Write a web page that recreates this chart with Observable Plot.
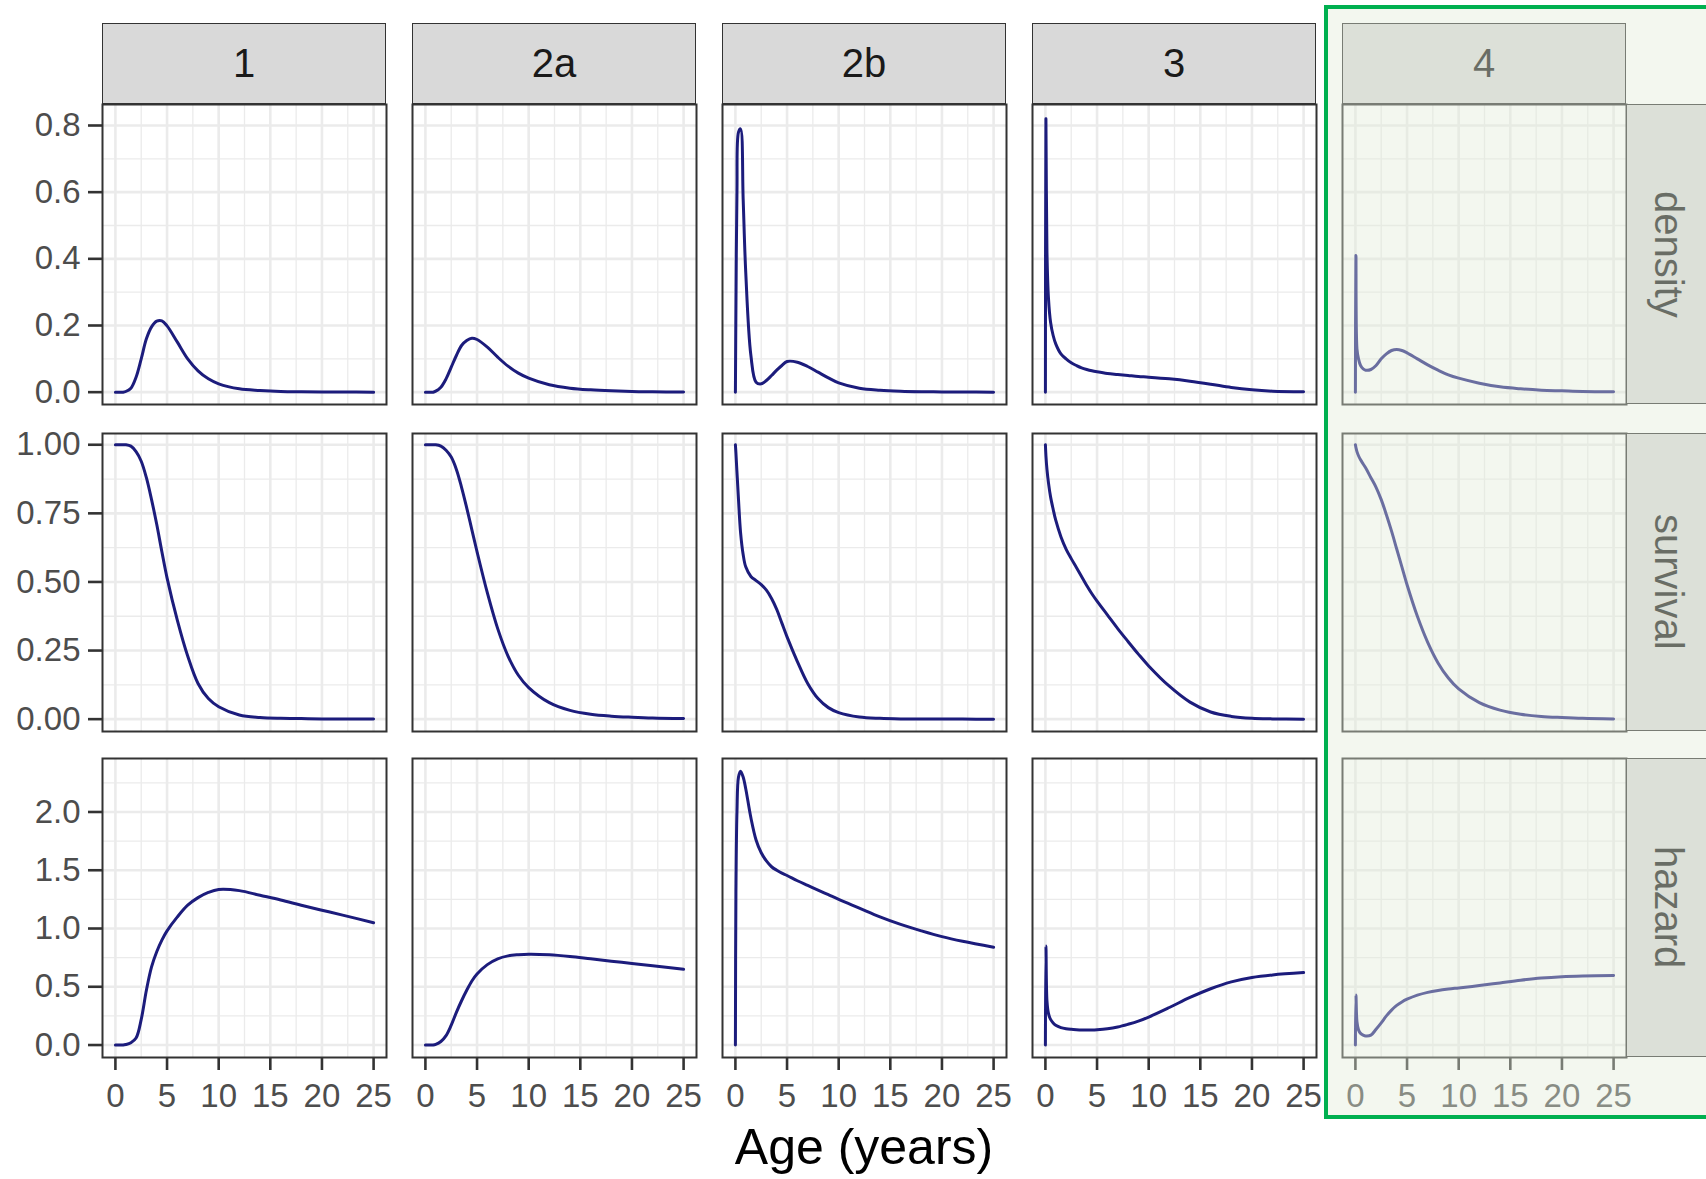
<!DOCTYPE html>
<html>
<head>
<meta charset="utf-8">
<script src="https://cdn.jsdelivr.net/npm/d3@7"></script>
<script src="https://cdn.jsdelivr.net/npm/@observablehq/plot@0.6"></script>
<style>
  body { margin: 0; background: #fff; font-family: "Liberation Sans", Arial, sans-serif; }
  #chart { position: relative; width: 1706px; height: 1179px; overflow: hidden; background: #fff; }
  .strip { position: absolute; box-sizing: border-box; background: #d9d9d9; border: 1.6px solid #333;
           color: #1a1a1a; font-size: 40px; display: flex; align-items: center; justify-content: center; }
  .strip.top { border-bottom: 2.6px solid #333; }
  .vtext { writing-mode: vertical-rl; }
  .panel { position: absolute; }
  .panel svg { overflow: visible; }
  .panel svg g[aria-label$="tick"] { stroke: #333; stroke-width: 2.6px; }
  .panel svg g[aria-label$="tick label"] { fill: #4d4d4d; }
  #xtitle { position: absolute; left: 102px; width: 1524px; top: 1122px; line-height: 50px;
            text-align: center; font-size: 50px; color: #000; }
  #hl { position: absolute; left: 1324px; top: 5px; width: 420px; height: 1114px; box-sizing: border-box;
        border: 4px solid #00b050; background: rgba(225, 235, 215, 0.4); pointer-events: none; z-index: 10; }
</style>
</head>
<body>
<div id="chart"></div>
<script>
// ---------- data ----------
const groups = ["1", "2a", "2b", "3", "4"];
const measures = ["density", "survival", "hazard"];
const ages = [0, 0.05, 0.15, 0.3, 0.5, 0.75, 1, 1.5, 2, 2.5, 3, 3.5, 4, 4.5, 5, 6, 7, 8, 9, 10, 12, 14, 16, 18, 20, 22, 25];

const density_1  = [0,0,0,0,0,0,0.002,0.012,0.045,0.1,0.16,0.196,0.213,0.214,0.199,0.15,0.1,0.064,0.04,0.025,0.01,0.005,0.002,0.001,0.0005,0.0002,0.0001];
const density_2a = [0,0,0,0,0,0,0.003,0.015,0.04,0.075,0.11,0.14,0.155,0.162,0.158,0.135,0.105,0.078,0.057,0.042,0.022,0.012,0.007,0.004,0.002,0.001,0.0005];
const density_2b = [0,0.25,0.6,0.78,0.79,0.58,0.36,0.11,0.03,0.025,0.035,0.05,0.066,0.08,0.092,0.09,0.077,0.06,0.043,0.028,0.012,0.006,0.003,0.0015,0.0008,0.0004,0.0001];
const density_3  = [0,0.82,0.42,0.28,0.21,0.17,0.145,0.115,0.1,0.088,0.08,0.073,0.068,0.064,0.061,0.056,0.053,0.05,0.047,0.045,0.04,0.033,0.024,0.014,0.007,0.003,0.001];
const density_4  = [0,0.41,0.13,0.1,0.08,0.07,0.066,0.068,0.08,0.1,0.115,0.125,0.128,0.125,0.118,0.1,0.082,0.066,0.052,0.042,0.027,0.016,0.01,0.006,0.004,0.002,0.001];

const survival_1  = [1,1,1,1,1,1,1,0.995,0.975,0.94,0.88,0.8,0.71,0.61,0.515,0.36,0.23,0.13,0.075,0.045,0.015,0.006,0.003,0.002,0.001,0.0005,0.0002];
const survival_2a = [1,1,1,1,1,1,1,0.995,0.98,0.955,0.91,0.845,0.77,0.69,0.61,0.46,0.33,0.23,0.16,0.115,0.06,0.032,0.018,0.011,0.007,0.004,0.002];
const survival_2b = [1,0.97,0.9,0.8,0.68,0.6,0.555,0.52,0.505,0.49,0.47,0.44,0.4,0.35,0.3,0.21,0.13,0.075,0.042,0.024,0.008,0.003,0.001,0.0005,0.0002,0.0001,0];
const survival_3  = [1,0.96,0.91,0.86,0.81,0.765,0.725,0.665,0.62,0.585,0.553,0.52,0.487,0.457,0.43,0.38,0.33,0.283,0.237,0.194,0.12,0.062,0.026,0.01,0.003,0.001,0];
const survival_4  = [1,0.99,0.975,0.96,0.945,0.93,0.915,0.88,0.845,0.8,0.745,0.685,0.62,0.555,0.49,0.375,0.28,0.205,0.15,0.11,0.06,0.033,0.018,0.01,0.006,0.003,0.001];

const hazard_1  = [0,0,0,0,0,0,0.004,0.02,0.06,0.22,0.47,0.67,0.8,0.9,0.98,1.1,1.2,1.265,1.31,1.335,1.325,1.285,1.245,1.2,1.157,1.115,1.05];
const hazard_2a = [0,0,0,0,0,0,0.005,0.03,0.08,0.17,0.28,0.38,0.47,0.55,0.61,0.69,0.74,0.765,0.775,0.78,0.775,0.76,0.74,0.72,0.7,0.68,0.65];
const hazard_2b = [0,1.3,2.0,2.3,2.35,2.3,2.2,1.95,1.76,1.65,1.58,1.53,1.5,1.475,1.455,1.41,1.37,1.33,1.29,1.25,1.175,1.1,1.035,0.98,0.93,0.89,0.84];
const hazard_3  = [0,0.85,0.38,0.27,0.22,0.19,0.17,0.15,0.14,0.135,0.132,0.13,0.13,0.13,0.132,0.14,0.155,0.178,0.205,0.24,0.322,0.408,0.483,0.542,0.58,0.602,0.622];
const hazard_4  = [0,0.43,0.2,0.13,0.1,0.085,0.078,0.085,0.135,0.19,0.25,0.3,0.34,0.37,0.393,0.428,0.452,0.468,0.48,0.49,0.51,0.533,0.556,0.575,0.587,0.593,0.597];

// tick / grid values
const xMajor = [0, 5, 10, 15, 20, 25];
const xMinor = [2.5, 7.5, 12.5, 17.5, 22.5];
const yMajorDensity = [0, 0.2, 0.4, 0.6, 0.8];
const yMinorDensity = [0.1, 0.3, 0.5, 0.7];
const yMajorSurvival = [0, 0.25, 0.5, 0.75, 1];
const yMinorSurvival = [0.125, 0.375, 0.625, 0.875];
const yMajorHazard = [0, 0.5, 1, 1.5, 2];
const yMinorHazard = [0.25, 0.75, 1.25, 1.75, 2.25];
const xTitle = "Age (years)";

// ---------- layout ----------
const seriesTable = {
  density:  {"1": density_1,  "2a": density_2a,  "2b": density_2b,  "3": density_3,  "4": density_4},
  survival: {"1": survival_1, "2a": survival_2a, "2b": survival_2b, "3": survival_3, "4": survival_4},
  hazard:   {"1": hazard_1,   "2a": hazard_2a,   "2b": hazard_2b,   "3": hazard_3,   "4": hazard_4}
};
const yMajor = [yMajorDensity, yMajorSurvival, yMajorHazard];
const yMinor = [yMinorDensity, yMinorSurvival, yMinorHazard];
const yFormat = [d3.format(".1f"), d3.format(".2f"), d3.format(".1f")];
const yDomain = [[-0.037, 0.863], [-0.045, 1.041], [-0.107, 2.459]];
const xDomain = [-1.25, 26.25];

const colLeft = [102, 412, 722, 1032, 1342];
const PW = 284;
const rowTop = [104, 433, 758];
const rowH = [300, 298, 299];
const lineColor = "#1c1c7c";
const gridColor = "#ebebeb";
const font = "'Liberation Sans', Arial, sans-serif";

const chart = document.getElementById("chart");

measures.forEach((m, ri) => {
  groups.forEach((g, ci) => {
    const isLeft = ci === 0, isBottom = ri === 2;
    const mL = isLeft ? 102 : 4, mR = 4, mT = 4, mB = isBottom ? 62 : 4;
    const vals = seriesTable[m][g];
    const data = ages.map((a, i) => ({age: a, value: vals[i]}));
    const svg = Plot.plot({
      width: PW + mL + mR,
      height: rowH[ri] + mT + mB,
      marginLeft: mL, marginRight: mR, marginTop: mT, marginBottom: mB,
      style: {fontFamily: font, fontSize: "33px", background: "transparent", overflow: "visible"},
      x: {domain: xDomain, axis: isBottom ? "bottom" : null, ticks: xMajor, tickSize: 13, tickPadding: 13,
          tickFormat: d => String(d), label: null},
      y: {domain: yDomain[ri], axis: isLeft ? "left" : null, ticks: yMajor[ri], tickSize: 14, tickPadding: 8,
          tickFormat: yFormat[ri], label: null},
      marks: [
        Plot.ruleX(xMinor, {stroke: gridColor, strokeWidth: 1.3}),
        Plot.ruleY(yMinor[ri], {stroke: gridColor, strokeWidth: 1.3}),
        Plot.ruleX(xMajor, {stroke: gridColor, strokeWidth: 2.6}),
        Plot.ruleY(yMajor[ri], {stroke: gridColor, strokeWidth: 2.6}),
        Plot.line(data, {x: "age", y: "value", stroke: lineColor, strokeWidth: 3, curve: "catmull-rom"}),
        Plot.frame({stroke: "#333", strokeWidth: 2})
      ]
    });
    const holder = document.createElement("div");
    holder.className = "panel";
    holder.style.left = (colLeft[ci] - mL) + "px";
    holder.style.top = (rowTop[ri] - mT) + "px";
    holder.appendChild(svg);
    chart.appendChild(holder);
  });
});

// top strips (group labels)
groups.forEach((g, ci) => {
  const s = document.createElement("div");
  s.className = "strip top";
  s.style.left = colLeft[ci] + "px";
  s.style.top = "23px";
  s.style.width = PW + "px";
  s.style.height = "82px";
  s.textContent = g;
  chart.appendChild(s);
});
// right strips (measure labels)
measures.forEach((m, ri) => {
  const s = document.createElement("div");
  s.className = "strip";
  s.style.left = (colLeft[4] + PW) + "px";
  s.style.top = rowTop[ri] + "px";
  s.style.width = "84px";
  s.style.height = rowH[ri] + "px";
  const t = document.createElement("span");
  t.className = "vtext";
  t.textContent = m;
  s.appendChild(t);
  chart.appendChild(s);
});

const title = document.createElement("div");
title.id = "xtitle";
title.textContent = xTitle;
chart.appendChild(title);

const hl = document.createElement("div");
hl.id = "hl";
chart.appendChild(hl);
</script>
</body>
</html>
